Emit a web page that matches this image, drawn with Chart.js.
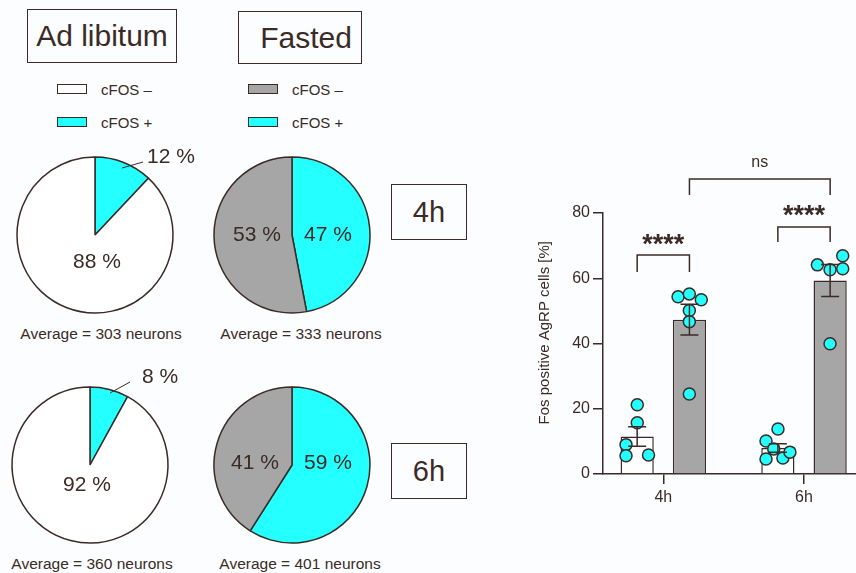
<!DOCTYPE html>
<html>
<head>
<meta charset="utf-8">
<script src="https://cdn.jsdelivr.net/npm/chart.js@4/dist/chart.umd.min.js"></script>
<style>
  body {
    margin: 0;
    width: 856px;
    height: 573px;
    overflow: hidden;
    position: relative;
    background: #fcfdff;
    font-family: "Liberation Sans", Arial, sans-serif;
    color: #3a2b26;
  }
  canvas { position: absolute; }
  .box {
    position: absolute;
    box-sizing: border-box;
    border: 1.5px solid #3a2b26;
    display: flex;
    align-items: center;
    justify-content: center;
    line-height: 1;
  }
  .swatch {
    position: absolute;
    box-sizing: border-box;
    width: 30px;
    height: 10px;
    border: 1.5px solid #3a2b26;
  }
  .txt {
    position: absolute;
    white-space: nowrap;
    line-height: 1;
  }
</style>
</head>
<body>

<div class="box" style="left:27px; top:9px; width:150px; height:54px; font-size:30px;">Ad libitum</div>
<div class="box" style="left:238px; top:11px; width:124px; height:53px; font-size:30px; padding-left:12px;">Fasted</div>
<div class="box" style="left:391px; top:184px; width:76px; height:56px; font-size:29px;">4h</div>
<div class="box" style="left:391px; top:443px; width:76px; height:56px; font-size:29px;">6h</div>

<div id="legends"></div>
<div id="averages"></div>

<canvas id="pieAd4" width="200" height="200" style="left:-5px; top:135px;"></canvas>
<canvas id="pieFa4" width="200" height="200" style="left:192px; top:135px;"></canvas>
<canvas id="pieAd6" width="200" height="200" style="left:-10px; top:365px;"></canvas>
<canvas id="pieFa6" width="200" height="200" style="left:192px; top:365px;"></canvas>
<canvas id="bars" width="379" height="374" style="left:530px; top:140px;"></canvas>

<script>
// ---- data ----
const pieCategories = ['cFOS +', 'cFOS –'];
const adlib4h = [12, 88];
const fasted4h = [47, 53];
const adlib6h = [8, 92];
const fasted6h = [59, 41];
const neuronAverages = [303, 333, 360, 401];

const timepoints = [4, 6]; // hours
const tickLabels = ['4h', '6h'];
const yTicks = [0, 20, 40, 60, 80];
const adlibMean = [11.5, 8.0];
const adlibSem = [3.0, 1.3];
const fastedMean = [47.3, 59.3];
const fastedSem = [4.7, 4.9];
const adlibPoints4h = [21.2, 15.7, 9.0, 5.6, 5.8];
const adlibPoints6h = [10.1, 13.8, 7.7, 4.6, 4.9, 6.7];
const fastedPoints4h = [54.3, 55.2, 53.4, 50.1, 46.7, 24.5];
const fastedPoints6h = [64.1, 66.9, 62.6, 62.9, 39.9];

// colours
const dark = '#3a2b26';
const cyan = '#24ffff';
const grey = '#a6a6a6';
const white = '#ffffff';

// ---- legends and captions (html text) ----
// colours listed in pieCategories order (plus, minus)
const legendSpots = [
  { left: 57, colors: [cyan, white] },
  { left: 248, colors: [cyan, grey] }
];
const legendHost = document.getElementById('legends');
legendSpots.forEach(spot => {
  // minus first, plus second as in the figure
  [1, 0].forEach((ci, row) => {
    const sw = document.createElement('div');
    sw.className = 'swatch';
    sw.style.left = spot.left + 'px';
    sw.style.top = (84 + row * 33) + 'px';
    sw.style.background = spot.colors[ci];
    legendHost.appendChild(sw);
    const t = document.createElement('div');
    t.className = 'txt';
    t.style.fontSize = '15px';
    t.style.left = (spot.left + 44) + 'px';
    t.style.top = (82 + row * 33) + 'px';
    t.textContent = pieCategories[ci];
    legendHost.appendChild(t);
  });
});

const averageSpots = [[101, 326], [301, 326], [92, 556], [300, 556]];
const avgHost = document.getElementById('averages');
averageSpots.forEach((p, i) => {
  const t = document.createElement('div');
  t.className = 'txt';
  t.style.fontSize = '15.5px';
  t.style.left = p[0] + 'px';
  t.style.top = p[1] + 'px';
  t.style.transform = 'translateX(-50%)';
  t.textContent = 'Average = ' + neuronAverages[i] + ' neurons';
  avgHost.appendChild(t);
});

// ---- pies ----
// label placement relative to pie centre (px), per slice; callout has a leader line
const pieLabels = {
  id: 'pieLabels',
  afterDatasetsDraw(chart, args, opts) {
    const ctx = chart.ctx;
    const arc = chart.getDatasetMeta(0).data[0];
    const cx = arc.x, cy = arc.y;
    const values = chart.data.datasets[0].data;
    ctx.save();
    ctx.fillStyle = dark;
    ctx.strokeStyle = dark;
    ctx.lineWidth = 1;
    ctx.font = '21px "Liberation Sans", Arial, sans-serif';
    ctx.textBaseline = 'middle';
    opts.spots.forEach((s, i) => {
      if (!s) return;
      const text = values[i] + ' %';
      if (s.line) {
        ctx.beginPath();
        ctx.moveTo(cx + s.line[0][0], cy + s.line[0][1]);
        ctx.lineTo(cx + s.line[1][0], cy + s.line[1][1]);
        ctx.stroke();
        ctx.textAlign = 'left';
      } else {
        ctx.textAlign = 'center';
      }
      ctx.fillText(text, cx + s.at[0], cy + s.at[1]);
    });
    ctx.restore();
  }
};

function makePie(id, values, colors, spots) {
  return new Chart(document.getElementById(id), {
    type: 'pie',
    data: {
      labels: pieCategories,
      datasets: [{
        data: values,
        backgroundColor: colors,
        borderColor: dark,
        borderWidth: 1.5,
        radius: 78
      }]
    },
    options: {
      responsive: false,
      animation: false,
      events: [],
      plugins: {
        legend: { display: false },
        tooltip: { enabled: false },
        pieLabels: { spots: spots }
      }
    },
    plugins: [pieLabels]
  });
}

makePie('pieAd4', adlib4h, [cyan, white], [
  { at: [52, -78], line: [[27, -67], [48, -73]] },
  { at: [2, 27] }
]);
makePie('pieFa4', fasted4h, [cyan, grey], [
  { at: [36, 0] },
  { at: [-35, 0] }
]);
makePie('pieAd6', adlib6h, [cyan, white], [
  { at: [52, -88], line: [[20, -72], [40, -83]] },
  { at: [-3, 20] }
]);
makePie('pieFa6', fasted6h, [cyan, grey], [
  { at: [36, -2] },
  { at: [-37, -2] }
]);

// ---- bar chart ----
const barOffset = 0.37; // hours, half the distance between paired bars
const adlibJitter4h = [0, 0, -0.16, -0.16, 0.16];
const adlibJitter6h = [-0.17, 0, -0.06, -0.17, 0.07, 0.17];
const fastedJitter4h = [-0.16, 0, 0.17, 0, 0, 0];
const fastedJitter6h = [-0.18, 0.18, 0, 0.18, 0];

function pts(hour, side, values, jitter) {
  return values.map((v, i) => ({ x: hour + side * barOffset + jitter[i], y: v }));
}

const comparisons = [
  { a: [0, 0], b: [0, 1], top: 67.1, drop: 5.2, label: '****', labelY: 72 },
  { a: [1, 0], b: [1, 1], top: 75.7, drop: 4.6, label: '****', labelY: 80.9 },
  { a: [0, 1], b: [1, 1], top: 90.4, drop: 4.9, label: 'ns', labelY: 95.3 }
];

const errorBars = {
  id: 'errorBars',
  afterDatasetsDraw(chart) {
    const ctx = chart.ctx;
    const y = chart.scales.y;
    const sems = [adlibSem, fastedSem];
    const means = [adlibMean, fastedMean];
    ctx.save();
    ctx.strokeStyle = dark;
    ctx.lineWidth = 1.5;
    [0, 1].forEach(d => {
      chart.getDatasetMeta(d).data.forEach((bar, i) => {
        const hi = y.getPixelForValue(means[d][i] + sems[d][i]);
        const lo = y.getPixelForValue(means[d][i] - sems[d][i]);
        ctx.beginPath();
        ctx.moveTo(bar.x, hi); ctx.lineTo(bar.x, lo);
        ctx.moveTo(bar.x - 9, hi); ctx.lineTo(bar.x + 9, hi);
        ctx.moveTo(bar.x - 9, lo); ctx.lineTo(bar.x + 9, lo);
        ctx.stroke();
      });
    });
    // significance brackets: a / b = [timepoint index, dataset index]
    ctx.fillStyle = dark;
    ctx.textAlign = 'center';
    ctx.textBaseline = 'middle';
    comparisons.forEach(c => {
      const xa = chart.getDatasetMeta(c.a[1]).data[c.a[0]].x;
      const xb = chart.getDatasetMeta(c.b[1]).data[c.b[0]].x;
      const yt = y.getPixelForValue(c.top);
      const yb = y.getPixelForValue(c.top - c.drop);
      ctx.beginPath();
      ctx.moveTo(xa, yb); ctx.lineTo(xa, yt); ctx.lineTo(xb, yt); ctx.lineTo(xb, yb);
      ctx.stroke();
      const stars = c.label.indexOf('*') >= 0;
      ctx.font = stars ? 'bold 27px "Liberation Sans", Arial, sans-serif'
                       : '16px "Liberation Sans", Arial, sans-serif';
      const ly = y.getPixelForValue(c.labelY) + (stars ? 6 : 0);
      ctx.fillText(c.label, (xa + xb) / 2, ly);
    });
    // y axis title, centred where the original places it
    ctx.translate(15, y.getPixelForValue(43.3));
    ctx.rotate(-Math.PI / 2);
    ctx.font = '15px "Liberation Sans", Arial, sans-serif';
    ctx.fillText('Fos positive AgRP cells [%]', 0, 0);
    ctx.restore();
  }
};

const axisGrid = {
  drawOnChartArea: false,
  drawTicks: true,
  tickLength: 10,
  color: dark,
  lineWidth: 1.5,
  offset: false
};

new Chart(document.getElementById('bars'), {
  type: 'bar',
  data: {
    datasets: [
      {
        label: 'Ad libitum',
        data: timepoints.map((h, i) => ({ x: h, y: adlibMean[i] })),
        backgroundColor: white,
        borderColor: dark,
        borderWidth: 1.5,
        categoryPercentage: 0.743,
        barPercentage: 0.635,
        order: 2
      },
      {
        label: 'Fasted',
        data: timepoints.map((h, i) => ({ x: h, y: fastedMean[i] })),
        backgroundColor: grey,
        borderColor: dark,
        borderWidth: 1.5,
        categoryPercentage: 0.743,
        barPercentage: 0.635,
        order: 2
      },
      {
        type: 'scatter',
        label: 'Ad libitum points',
        data: pts(4, -1, adlibPoints4h, adlibJitter4h).concat(pts(6, -1, adlibPoints6h, adlibJitter6h)),
        pointRadius: 6,
        pointBackgroundColor: cyan,
        pointBorderColor: dark,
        pointBorderWidth: 1.5,
        clip: false,
        order: 1
      },
      {
        type: 'scatter',
        label: 'Fasted points',
        data: pts(4, 1, fastedPoints4h, fastedJitter4h).concat(pts(6, 1, fastedPoints6h, fastedJitter6h)),
        pointRadius: 6,
        pointBackgroundColor: cyan,
        pointBorderColor: dark,
        pointBorderWidth: 1.5,
        clip: false,
        order: 1
      }
    ]
  },
  options: {
    responsive: false,
    animation: false,
    events: [],
    layout: { padding: { top: 73, left: 0, right: 0, bottom: 0 } },
    scales: {
      x: {
        type: 'linear',
        offset: false,
        min: 4 - 60 / 70,
        max: 6 + 97 / 70,
        afterBuildTicks: s => { s.ticks = timepoints.map(v => ({ value: v })); },
        afterFit: s => { s.height = 40; },
        ticks: {
          color: dark,
          font: { family: '"Liberation Sans", Arial, sans-serif', size: 16 },
          padding: 4,
          callback: v => tickLabels[timepoints.indexOf(v)]
        },
        grid: axisGrid,
        border: { color: dark, width: 1.5 }
      },
      y: {
        min: 0,
        max: 80,
        afterBuildTicks: s => { s.ticks = yTicks.map(v => ({ value: v })); },
        afterFit: s => { s.width = 73; },
        ticks: {
          color: dark,
          font: { family: '"Liberation Sans", Arial, sans-serif', size: 16 },
          padding: 3
        },
        grid: axisGrid,
        border: { color: dark, width: 1.5 }
      }
    },
    plugins: {
      legend: { display: false },
      tooltip: { enabled: false }
    }
  },
  plugins: [errorBars]
});
</script>
</body>
</html>
